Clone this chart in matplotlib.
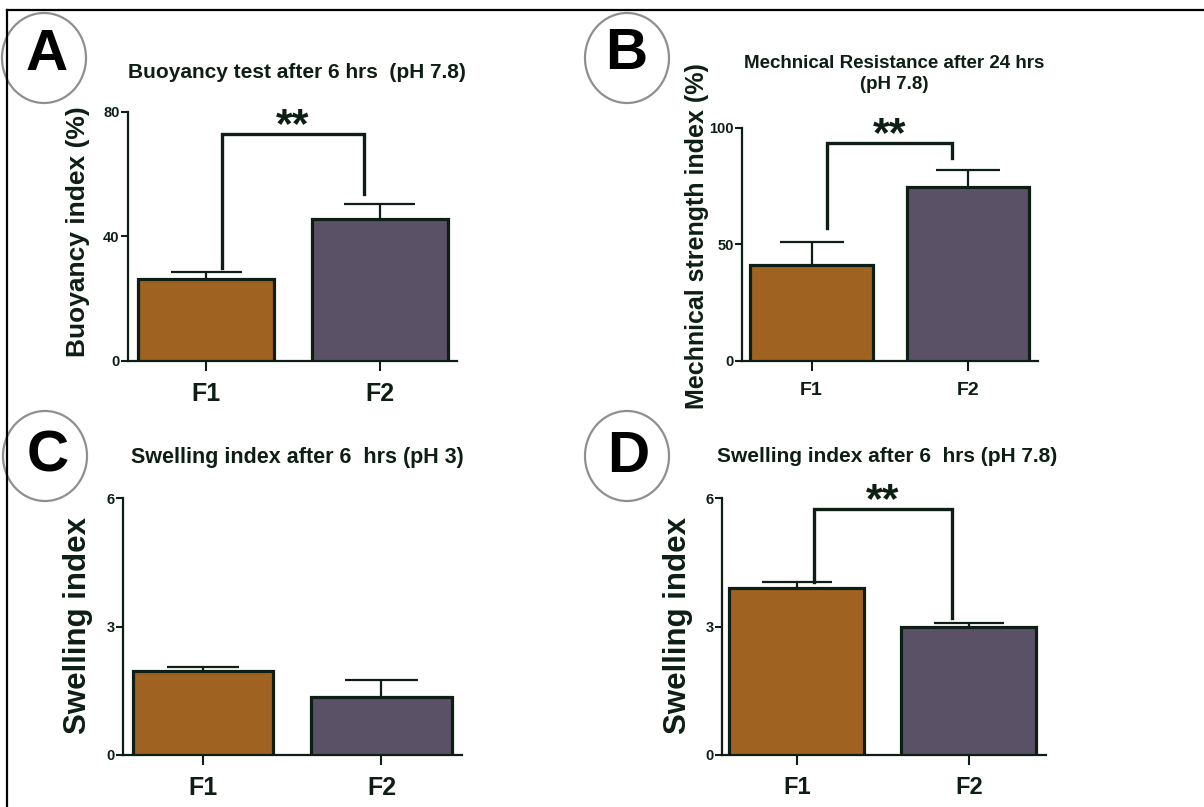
import matplotlib
matplotlib.use("Agg")
import matplotlib.pyplot as plt
from matplotlib.patches import Ellipse
from matplotlib.lines import Line2D
from matplotlib.transforms import offset_copy
import numpy as np

# ---------------- data ----------------
categories = ["F1", "F2"]

buoy_mean = [26.4, 45.6]
buoy_err = [2.2, 4.9]
buoy_ticks = [0, 40, 80]
buoy_bracket = [73.0, 30.0, 53.7]      # bracket top, left leg end, right leg end

mech_mean = [41.2, 74.7]
mech_err = [9.9, 7.3]
mech_ticks = [0, 50, 100]
mech_bracket = [93.6, 57.0, 87.0]

swell3_mean = [1.96, 1.36]
swell3_err = [0.10, 0.39]
swell3_ticks = [0, 3, 6]

swell78_mean = [3.90, 2.99]
swell78_err = [0.14, 0.09]
swell78_ticks = [0, 3, 6]
swell78_bracket = [5.75, 4.04, 3.20]

# ---------------- style ----------------
W, H = 1204, 807
DPI = 100
DARK = "#0d1f14"
C1 = "#a06221"
C2 = "#5a5166"
NARROW = ["Liberation Sans Narrow", "Liberation Sans", "DejaVu Sans"]
SANS = ["Liberation Sans", "DejaVu Sans"]

fig = plt.figure(figsize=(W / DPI, H / DPI), dpi=DPI)
fig.patch.set_facecolor("white")


def fx(px):
    return px / W


def fy(py):
    return 1 - py / H


def make_axes(x0, x1, ytop, ybot):
    return fig.add_axes([fx(x0), fy(ybot), fx(x1 - x0), (ybot - ytop) / H])


def panel(ax, means, errs, ticks, xlim, xtick_size, bracket=None, leg_off=0.1):
    x = np.arange(len(categories))
    width = 0.785
    ax.bar(x, means, width=width, color=[C1, C2], edgecolor=DARK,
           linewidth=2.3, zorder=3)
    tops = np.array(means) + np.array(errs)
    ax.vlines(x, means, tops, color=DARK, linewidth=1.6, zorder=2)
    ax.hlines(tops, x - width * 0.26, x + width * 0.26, color=DARK,
              linewidth=1.6, zorder=2)
    ax.set_xlim(*xlim)
    ax.set_ylim(ticks[0], ticks[-1])
    ax.set_yticks(ticks)
    ax.set_xticks(x)
    ax.set_xticklabels(categories)
    for s in ["top", "right"]:
        ax.spines[s].set_visible(False)
    for s in ["left", "bottom"]:
        ax.spines[s].set_linewidth(1.6)
        ax.spines[s].set_color(DARK)
    ax.tick_params(axis="y", direction="out", length=5, width=1.5,
                   color=DARK, pad=1)
    ax.tick_params(axis="x", direction="out", length=7, width=1.5,
                   color=DARK, pad=8)
    for lab in ax.get_yticklabels():
        lab.set_fontfamily(NARROW)
        lab.set_fontweight("bold")
        lab.set_fontsize(10.5)
        lab.set_color(DARK)
    for lab in ax.get_xticklabels():
        lab.set_fontfamily(NARROW)
        lab.set_fontweight("bold")
        lab.set_fontsize(xtick_size)
        lab.set_color(DARK)
    ax.set_facecolor("none")
    if bracket is not None:
        ytop, yl, yr = bracket
        xl, xr = x[0] + leg_off, x[1] - leg_off
        ax.plot([xl, xl, xr, xr], [yl, ytop, ytop, yr], color=DARK,
                linewidth=2.4, solid_joinstyle="miter", zorder=4,
                clip_on=False)
        tr = offset_copy(ax.transData, fig=fig, x=0, y=-3, units="dots")
        ax.text((xl + xr) / 2, ytop, "**", ha="center", va="baseline",
                fontsize=31, fontweight="bold", family=SANS, color=DARK,
                transform=tr)


# Panel A
axA = make_axes(128, 457, 112, 361)
panel(axA, buoy_mean, buoy_err, buoy_ticks, (-0.45, 1.445), 18,
      bracket=buoy_bracket, leg_off=0.09)
# Panel B
axB = make_axes(742, 1038, 128, 361)
panel(axB, mech_mean, mech_err, mech_ticks, (-0.445, 1.447), 14,
      bracket=mech_bracket, leg_off=0.1)
# Panel C
axC = make_axes(123, 462, 498, 755)
panel(axC, swell3_mean, swell3_err, swell3_ticks, (-0.448, 1.451), 18)
# Panel D
axD = make_axes(722, 1046, 498, 755)
panel(axD, swell78_mean, swell78_err, swell78_ticks, (-0.436, 1.448), 17,
      bracket=swell78_bracket, leg_off=0.1)

# titles
fig.text(fx(297), fy(72), "Buoyancy test after 6 hrs  (pH 7.8)", ha="center",
         va="center", fontsize=15, fontweight="bold", family=NARROW, color=DARK)
fig.text(fx(894), fy(74), "Mechnical Resistance after 24 hrs\n(pH 7.8)",
         ha="center", va="center", fontsize=13.5, fontweight="bold",
         family=NARROW, color=DARK, linespacing=1.3)
fig.text(fx(297), fy(457), "Swelling index after 6  hrs (pH 3)", ha="center",
         va="center", fontsize=15.5, fontweight="bold", family=NARROW, color=DARK)
fig.text(fx(887), fy(457), "Swelling index after 6  hrs (pH 7.8)", ha="center",
         va="center", fontsize=15, fontweight="bold", family=NARROW, color=DARK)

# y labels
fig.text(fx(78), fy(232), "Buoyancy index (%)", rotation=90, ha="center",
         va="center", fontsize=19, fontweight="bold", family=SANS, color=DARK)
fig.text(fx(697), fy(236), "Mechnical strength index (%)", rotation=90,
         ha="center", va="center", fontsize=18, fontweight="bold", family=SANS,
         color=DARK)
fig.text(fx(78), fy(625), "Swelling index", rotation=90, ha="center",
         va="center", fontsize=22.5, fontweight="bold", family=SANS, color=DARK)
fig.text(fx(678), fy(625), "Swelling index", rotation=90, ha="center",
         va="center", fontsize=22.5, fontweight="bold", family=SANS, color=DARK)

# panel letters in circles
letters = ["A", "B", "C", "D"]
centers = [(44, 58), (627, 58), (45, 456), (627, 456)]
letter_pos = [(47, 55), (626, 54), (48, 456), (628, 457)]
for lt, (cx, cy), (lx, ly) in zip(letters, centers, letter_pos):
    e = Ellipse((fx(cx), fy(cy)), width=84 / W, height=90 / H,
                transform=fig.transFigure, facecolor="none",
                edgecolor="#8f8f8f", linewidth=1.6)
    fig.add_artist(e)
    fig.text(fx(lx), fy(ly), lt, ha="center", va="center", fontsize=42,
             fontweight="bold", family=SANS, color="black")

# frame lines (top and left)
fig.add_artist(Line2D([fx(7), 1], [fy(10), fy(10)], transform=fig.transFigure,
                      color="black", linewidth=1.6))
fig.add_artist(Line2D([fx(7), fx(7)], [fy(10), 0], transform=fig.transFigure,
                      color="black", linewidth=1.6))

fig.savefig("out.png", dpi=DPI)
